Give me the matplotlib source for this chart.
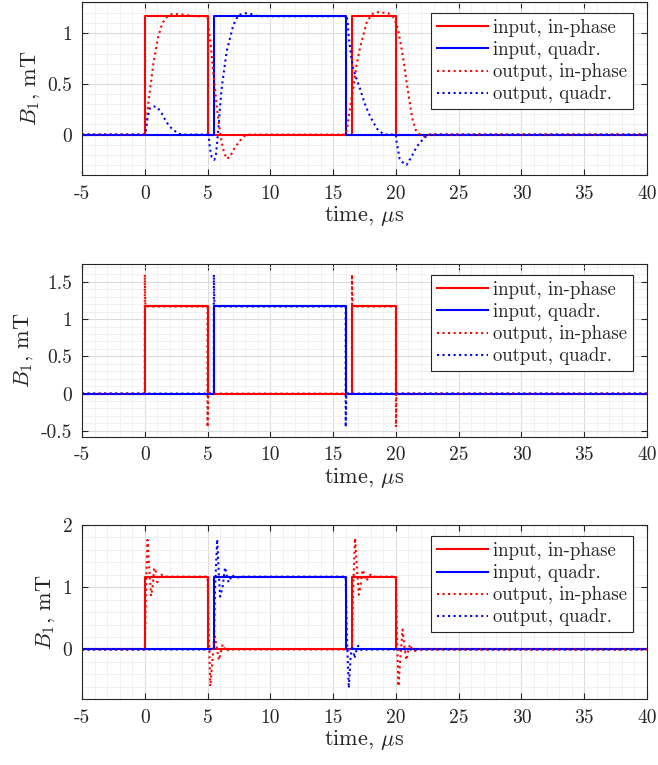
import matplotlib.pyplot as plt
from matplotlib.ticker import MultipleLocator

plt.rcParams['font.family'] = 'serif'
plt.rcParams['font.serif'] = ['cmr10']
plt.rcParams['mathtext.fontset'] = 'cm'
plt.rcParams['axes.unicode_minus'] = False

# ideal input pulses, time in us, B1 in mT
t_in_i = [-5, 0, 0, 5, 5, 16.5, 16.5, 20, 20, 40]
b_in_i = [0, 0, 1.17, 1.17, 0, 0, 1.17, 1.17, 0, 0]
t_in_q = [-5, 5.5, 5.5, 16, 16, 40]
b_in_q = [0, 0, 1.17, 1.17, 0, 0]

# panel 1: band-limited output
t_out_i_1 = [-5, 0, 0.05, 0.18, 0.28, 0.41, 0.55, 0.68, 0.87, 1.08, 1.39, 1.74, 2.14, 2.8, 3.3,
             4.0, 5.0, 5.06, 5.19, 5.33, 5.45, 5.59, 5.72, 5.85, 5.99, 6.12, 6.3, 6.52, 6.78,
             7.12, 7.58, 7.98, 8.4, 15.8, 16.0, 16.1, 16.26, 16.47, 16.68, 16.87, 17.13, 17.4,
             17.7, 18.2, 18.6, 19.4, 19.9, 20.2, 20.45, 20.66, 20.85, 21.1, 21.3, 21.6, 22.0,
             22.3, 22.7, 40]
b_out_i_1 = [0, 0, 0.03, 0.17, 0.31, 0.44, 0.57, 0.70, 0.83, 0.97, 1.10, 1.16, 1.19, 1.19, 1.18,
             1.17, 1.17, 1.08, 0.95, 0.79, 0.62, 0.46, 0.29, 0.16, 0.03, -0.07, -0.17, -0.24, -0.22,
             -0.14, -0.06, -0.01, 0, 0, 0.0, 0.05, 0.19, 0.36, 0.52, 0.69, 0.85, 0.98,
             1.12, 1.20, 1.21, 1.20, 1.15, 1.02, 0.85, 0.69, 0.52, 0.32, 0.16, 0.04, -0.01,
             -0.02, 0, 0]
t_out_q_1 = [-5, 0, 0.05, 0.23, 0.41, 0.68, 1.0, 1.35, 1.74, 2.14, 2.67, 3.0, 5.0, 5.11, 5.19,
             5.33, 5.53, 5.65, 5.78, 5.9, 5.99, 6.12, 6.33, 6.52, 6.78, 7.05, 7.45, 7.98, 8.5,
             9.0, 16.0, 16.07, 16.15, 16.26, 16.42, 16.6, 16.87, 17.13, 17.48, 17.8, 18.2, 18.6,
             19.1, 20.0, 20.05, 20.2, 20.3, 20.5, 20.85, 21.25, 21.65, 22.2, 22.6, 40]
b_out_q_1 = [0, 0, 0.01, 0.17, 0.26, 0.28, 0.27, 0.21, 0.12, 0.06, 0.01, 0, 0, -0.04, -0.14,
             -0.22, -0.25, -0.22, -0.06, 0.12, 0.27, 0.45, 0.65, 0.82, 0.95, 1.08, 1.18, 1.20, 1.19,
             1.17, 1.17, 1.18, 1.12, 0.95, 0.79, 0.65, 0.55, 0.46, 0.32, 0.22, 0.12, 0.04,
             0.0, 0.0, -0.07, -0.17, -0.24, -0.27, -0.30, -0.22, -0.12, -0.04, 0, 0]

# panel 2: wide-band output, short spikes at the edges
t_out_i_2 = [-5, 0, 0, 0.05, 5, 5, 5.05, 16.5, 16.5, 16.55, 20, 20, 20.05, 40]
b_out_i_2 = [0, 0, 1.6, 1.17, 1.17, -0.45, 0, 0, 1.6, 1.17, 1.17, -0.45, 0, 0]
t_out_q_2 = [-5, 5.5, 5.5, 5.55, 16, 16, 16.05, 40]
b_out_q_2 = [0, 0, 1.6, 1.17, 1.17, -0.45, 0, 0]

# panel 3: ringing output
t_out_i_3 = [-5, 0, 0.1, 0.22, 0.36, 0.5, 0.62, 0.75, 0.88, 1.0, 1.12, 1.25, 1.4, 1.6, 5.0,
             5.1, 5.22, 5.38, 5.55, 5.72, 5.9, 6.05, 6.2, 6.35, 6.5, 6.7, 7.0, 16.5, 16.6,
             16.75, 16.9, 17.05, 17.2, 17.35, 17.5, 17.65, 17.8, 17.95, 18.2, 20.0, 20.08,
             20.2, 20.35, 20.53, 20.68, 20.83, 20.98, 21.13, 21.3, 21.45, 21.8, 40]
b_out_i_3 = [0, 0, 1.0, 1.76, 1.3, 0.86, 1.0, 1.31, 1.25, 1.08, 1.13, 1.22, 1.19, 1.17, 1.17,
             0.3, -0.59, -0.2, 0.24, 0.05, -0.17, -0.05, 0.08, 0.02, -0.03, 0.0, 0, 0, 1.0,
             1.79, 1.3, 0.88, 1.05, 1.28, 1.2, 1.1, 1.15, 1.2, 1.17, 1.17, 0.3,
             -0.59, -0.15, 0.32, 0.05, -0.17, -0.02, 0.08, 0.0, -0.03, 0, 0]
t_out_q_3 = [-5, 5.5, 5.6, 5.77, 5.9, 6.0, 6.2, 6.39, 6.55, 6.67, 6.82, 6.96, 7.15, 7.3, 7.6,
             16.0, 16.1, 16.25, 16.4, 16.55, 16.7, 16.85, 17.0, 17.2, 17.4, 17.7, 40]
b_out_q_3 = [0, 0, 1.0, 1.77, 1.2, 0.85, 1.0, 1.32, 1.18, 1.08, 1.14, 1.20, 1.16, 1.15, 1.17,
             1.17, 0.2, -0.62, -0.1, 0.06, -0.14, -0.02, 0.06, 0.0, -0.02, 0, 0]

outputs = [(t_out_i_1, b_out_i_1, t_out_q_1, b_out_q_1),
           (t_out_i_2, b_out_i_2, t_out_q_2, b_out_q_2),
           (t_out_i_3, b_out_i_3, t_out_q_3, b_out_q_3)]

y_limits = [(-0.4, 1.31), (-0.58, 1.74), (-0.8, 2.0)]
y_ticks = [[0, 0.5, 1], [-0.5, 0, 0.5, 1, 1.5], [0, 1, 2]]
y_tick_labels = [['0', '0.5', '1'], ['-0.5', '0', '0.5', '1', '1.5'], ['0', '1', '2']]
y_minor = [0.1, 0.1, 0.2]
x_ticks = [-5, 0, 5, 10, 15, 20, 25, 30, 35, 40]
x_tick_labels = ['-5', '0', '5', '10', '15', '20', '25', '30', '35', '40']
legend_labels = ['input, in-phase', 'input, quadr.', 'output, in-phase', 'output, quadr.']

dark = '#262626'
axes_rects = [[0.1246, 0.7712, 0.8587, 0.2261],
              [0.1246, 0.4291, 0.8587, 0.2257],
              [0.1246, 0.0859, 0.8587, 0.2278]]

fig = plt.figure(figsize=(6.58, 7.65), dpi=100)

for k in range(3):
    ax = fig.add_axes(axes_rects[k])
    t_i, b_i, t_q, b_q = outputs[k]
    ax.plot(t_in_i, b_in_i, color='red', lw=1.5, label=legend_labels[0])
    ax.plot(t_in_q, b_in_q, color='blue', lw=1.5, label=legend_labels[1])
    ax.plot(t_i, b_i, color='red', lw=1.5, ls=':', label=legend_labels[2])
    ax.plot(t_q, b_q, color='blue', lw=1.5, ls=':', label=legend_labels[3])

    ax.set_xlim(-5, 40)
    ax.set_ylim(*y_limits[k])
    ax.set_xticks(x_ticks)
    ax.set_xticklabels(x_tick_labels)
    ax.set_yticks(y_ticks[k])
    ax.set_yticklabels(y_tick_labels[k])
    ax.xaxis.set_minor_locator(MultipleLocator(1))
    ax.yaxis.set_minor_locator(MultipleLocator(y_minor[k]))
    ax.grid(True, which='major', color='#dcdcdc', lw=0.8)
    ax.grid(True, which='minor', color='#efefef', lw=0.6)
    ax.set_axisbelow(True)
    ax.tick_params(which='major', direction='in', length=4, width=0.8, color=dark,
                   top=True, right=True, labelsize=14, labelcolor=dark, pad=7)
    ax.tick_params(which='minor', length=0)
    for s in ax.spines.values():
        s.set_color(dark)
        s.set_linewidth(0.8)

    ax.set_xlabel(r'time, $\mu$s', fontsize=16, color=dark, labelpad=1)
    ax.set_ylabel(r'$B_1$, mT', fontsize=16, color=dark, labelpad=4)

    leg = ax.legend(loc='upper right', bbox_to_anchor=(0.975, 0.935), borderaxespad=0,
                    fontsize=13.5, fancybox=False, framealpha=1,
                    edgecolor=dark, handlelength=2.7, handletextpad=0.3,
                    labelspacing=0.22, borderpad=0.3)
    leg.get_frame().set_linewidth(0.8)
    for txt in leg.get_texts():
        txt.set_color(dark)

fig.savefig('out.png', dpi=100)
